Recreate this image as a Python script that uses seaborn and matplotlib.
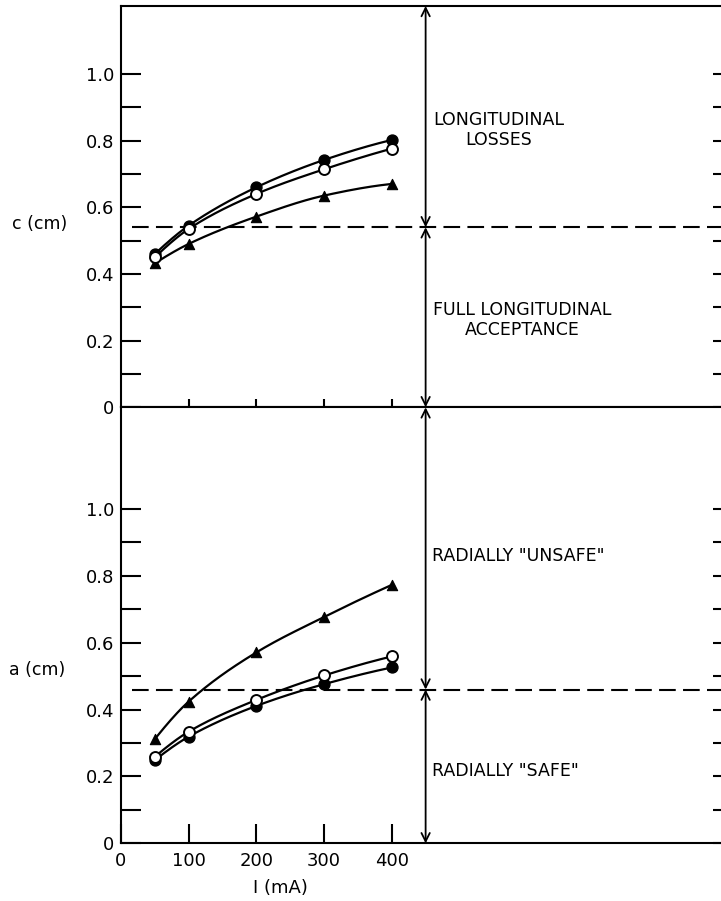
import numpy as np
import pandas as pd
import matplotlib
matplotlib.use("Agg")
import matplotlib.pyplot as plt
from matplotlib.ticker import FixedLocator, FixedFormatter
import seaborn as sns

# Beam current (mA)
current_mA = [50, 100, 200, 300, 400]

# Longitudinal half-length c (cm)
c_filled = [0.460, 0.545, 0.660, 0.742, 0.802]
c_open = [0.450, 0.535, 0.640, 0.714, 0.776]
c_triangle = [0.432, 0.490, 0.572, 0.635, 0.670]

# Radial size a (cm)
a_filled = [0.249, 0.319, 0.411, 0.476, 0.526]
a_open = [0.259, 0.334, 0.429, 0.502, 0.559]
a_triangle = [0.312, 0.424, 0.571, 0.677, 0.773]

# Acceptance limits
c_limit = 0.54
a_limit = 0.46
limit_marker_x = 450

x_tick_values = [0, 100, 200, 300, 400]
y_major_values = [0, 0.2, 0.4, 0.6, 0.8, 1.0]
y_major_labels = ["0", "0.2", "0.4", "0.6", "0.8", "1.0"]
y_minor_values = [0.1, 0.3, 0.5, 0.7, 0.9]

top_labels = ["LONGITUDINAL\nLOSSES", "FULL LONGITUDINAL\nACCEPTANCE"]
bottom_labels = ['RADIALLY "UNSAFE"', 'RADIALLY "SAFE"']


def smooth_curve(x, y, n=150):
    """Shape-preserving (PCHIP) cubic through the measured points."""
    x = np.asarray(x, float)
    y = np.asarray(y, float)
    h = np.diff(x)
    delta = np.diff(y) / h
    k = len(x)
    d = np.zeros(k)
    for i in range(1, k - 1):
        if delta[i - 1] * delta[i] > 0:
            w1 = 2 * h[i] + h[i - 1]
            w2 = h[i] + 2 * h[i - 1]
            d[i] = (w1 + w2) / (w1 / delta[i - 1] + w2 / delta[i])
    d[0] = ((2 * h[0] + h[1]) * delta[0] - h[0] * delta[1]) / (h[0] + h[1])
    d[-1] = ((2 * h[-1] + h[-2]) * delta[-1] - h[-1] * delta[-2]) / (h[-1] + h[-2])
    xs = np.linspace(x[0], x[-1], n)
    ys = np.empty_like(xs)
    for j, xv in enumerate(xs):
        i = min(np.searchsorted(x, xv, side="right") - 1, k - 2)
        t = (xv - x[i]) / h[i]
        h00 = 2 * t**3 - 3 * t**2 + 1
        h10 = t**3 - 2 * t**2 + t
        h01 = -2 * t**3 + 3 * t**2
        h11 = t**3 - t**2
        ys[j] = h00 * y[i] + h10 * h[i] * d[i] + h01 * y[i + 1] + h11 * h[i] * d[i + 1]
    return xs, ys


sns.set_style("ticks")
plt.rcParams["font.family"] = ["DejaVu Sans"]
plt.rcParams["axes.linewidth"] = 1.5
plt.rcParams["text.color"] = "black"
plt.rcParams["axes.labelcolor"] = "black"
plt.rcParams["xtick.color"] = "black"
plt.rcParams["ytick.color"] = "black"

fig = plt.figure(figsize=(7.21, 9.01), dpi=100)
ax_top = fig.add_axes([0.1678, 0.5480, 0.8488, 0.4454])
ax_bot = fig.add_axes([0.1678, 0.0640, 0.8488, 0.4839])

x_max = 904


def draw_series(ax, ys, style):
    xs, sm = smooth_curve(current_mA, ys)
    sns.lineplot(x=xs, y=sm, ax=ax, color="black", lw=1.6, sort=False,
                 estimator=None, zorder=2)
    if style == "filled":
        sns.scatterplot(x=current_mA, y=ys, ax=ax, marker="o", s=62,
                        color="black", edgecolor="black", linewidth=1.0, zorder=4)
    elif style == "open":
        sns.scatterplot(x=current_mA, y=ys, ax=ax, marker="o", s=62,
                        color="white", edgecolor="black", linewidth=1.4, zorder=5)
    else:
        sns.scatterplot(x=current_mA, y=ys, ax=ax, marker="^", s=55,
                        color="black", edgecolor="black", linewidth=0.8, zorder=4)


def style_axis(ax, ytop):
    ax.set_xlim(0, x_max)
    ax.set_ylim(0, ytop)
    for s in ax.spines.values():
        s.set_linewidth(1.5)
        s.set_color("black")
    ax.yaxis.set_major_locator(FixedLocator(y_major_values))
    ax.yaxis.set_major_formatter(FixedFormatter(y_major_labels))
    ax.yaxis.set_minor_locator(FixedLocator(y_minor_values))
    ax.tick_params(axis="y", which="both", left=True, right=True,
                   direction="in", length=14.4, width=1.5, pad=5,
                   labelsize=13, colors="black")
    ax.set_xlabel("")
    ax.set_ylabel("")


def arrow(ax, y0, y1):
    ax.annotate("", xy=(limit_marker_x, y1), xytext=(limit_marker_x, y0),
                arrowprops=dict(arrowstyle="<->,head_length=0.6,head_width=0.3",
                                lw=1.3, color="black", shrinkA=0, shrinkB=0),
                annotation_clip=False, zorder=6)


# ---- upper panel: c (cm) ----
top_ymax = 1.204
draw_series(ax_top, c_filled, "filled")
draw_series(ax_top, c_open, "open")
draw_series(ax_top, c_triangle, "triangle")
style_axis(ax_top, top_ymax)
ax_top.axhline(c_limit, xmin=0.018, xmax=1, color="black", lw=1.5,
               dashes=(8, 3.5), zorder=1)
ax_top.xaxis.set_major_locator(FixedLocator(x_tick_values[1:]))
ax_top.xaxis.set_minor_locator(FixedLocator(x_tick_values[1:]))
ax_top.tick_params(axis="x", which="major", bottom=True, top=False,
                   direction="inout", length=12, width=1.5, labelbottom=False)
ax_top.tick_params(axis="x", which="minor", bottom=False, top=True,
                   direction="in", length=15, width=1.5, labeltop=False)
arrow(ax_top, 0, c_limit)
arrow(ax_top, c_limit, top_ymax)
ax_top.text(461, 0.832, top_labels[0], ha="left", va="center",
            multialignment="center", fontsize=12.5, linespacing=1.15)
ax_top.text(461, 0.262, top_labels[1], ha="left", va="center",
            multialignment="center", fontsize=12.5, linespacing=1.15)
ax_top.set_ylabel("c (cm)", rotation=0, ha="left", va="center", fontsize=12.5)
ax_top.yaxis.set_label_coords(-0.178, 0.457)

# ---- lower panel: a (cm) ----
bot_ymax = 1.304
draw_series(ax_bot, a_filled, "filled")
draw_series(ax_bot, a_open, "open")
draw_series(ax_bot, a_triangle, "triangle")
style_axis(ax_bot, bot_ymax)
ax_bot.axhline(a_limit, xmin=0.018, xmax=1, color="black", lw=1.5,
               dashes=(8, 3.5), zorder=1)
ax_bot.xaxis.set_major_locator(FixedLocator(x_tick_values))
ax_bot.xaxis.set_major_formatter(FixedFormatter([str(v) for v in x_tick_values]))
ax_bot.xaxis.set_minor_locator(FixedLocator([]))
ax_bot.tick_params(axis="x", which="major", bottom=True, top=False,
                   direction="in", length=14, width=1.5, pad=6,
                   labelsize=13, colors="black")
arrow(ax_bot, 0, a_limit)
arrow(ax_bot, a_limit, bot_ymax)
ax_bot.text(459, 0.860, bottom_labels[0], ha="left", va="center", fontsize=12.5)
ax_bot.text(459, 0.217, bottom_labels[1], ha="left", va="center", fontsize=12.5)
ax_bot.set_ylabel("a (cm)", rotation=0, ha="left", va="center", fontsize=12.5)
ax_bot.yaxis.set_label_coords(-0.183, 0.397)
ax_bot.set_xlabel("I (mA)", fontsize=13, va="center")
ax_bot.xaxis.set_label_coords(235 / x_max, -0.1025)

fig.savefig("out.png", dpi=100)
